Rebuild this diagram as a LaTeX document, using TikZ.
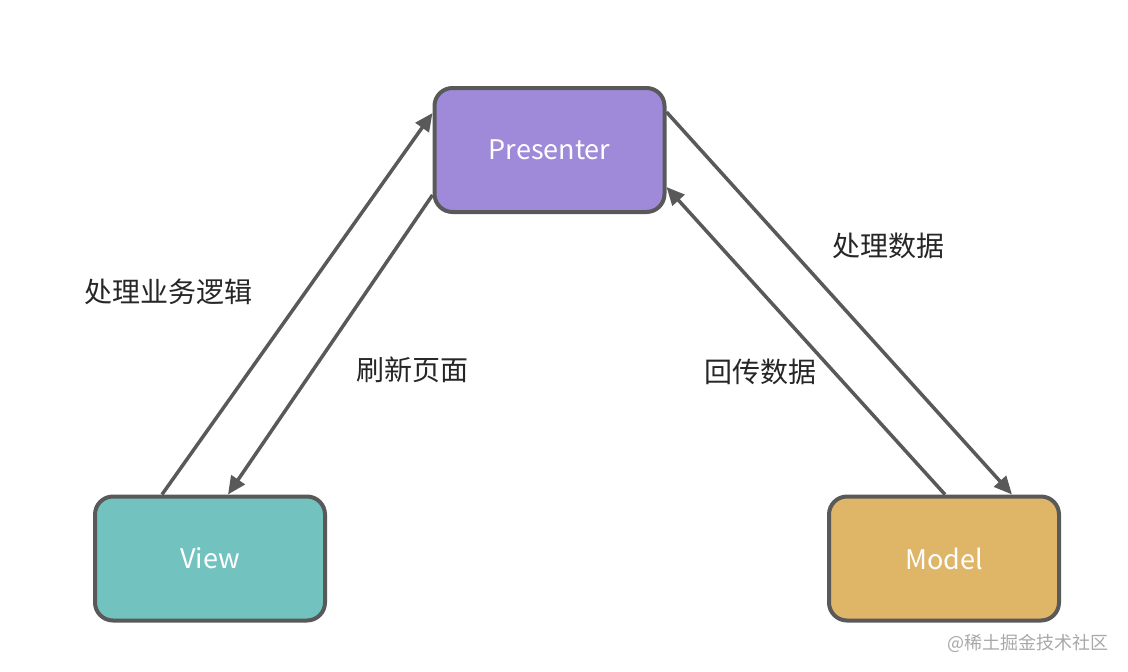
\documentclass[tikz,border=0pt]{standalone}
\usepackage{fontspec}
\setmainfont{Noto Sans CJK SC}
\usetikzlibrary{arrows.meta}
\definecolor{edgegray}{HTML}{595959}
\definecolor{presfill}{HTML}{9E8AD9}
\definecolor{viewfill}{HTML}{72C3C0}
\definecolor{modelfill}{HTML}{DFB568}
\definecolor{wmgray}{HTML}{A8A8A8}
\tikzset{
  box/.style={draw=edgegray, line width=4pt, rounded corners=18pt,
    minimum width=230pt, minimum height=124pt, inner sep=0pt,
    text=white, font=\fontsize{27}{31}\selectfont},
  conn/.style={draw=edgegray, line width=3.5pt,
    -{Triangle[length=18pt,width=16pt]}},
  lbl/.style={text=black!85, font=\fontsize{28}{32}\selectfont, inner sep=0pt}
}
\begin{document}
\begin{tikzpicture}[x=1pt,y=-1pt]
\useasboundingbox (0,0) rectangle (1128,672);
\node[box, fill=presfill] (P) at (549.5,150) {Presenter};
\node[box, fill=viewfill] (V) at (210,558.5) {View};
\node[box, fill=modelfill] (M) at (944,558.5) {Model};
% anchor points on box borders
\coordinate (v1) at ([xshift=69pt]V.north west);
\coordinate (v2) at ([xshift=135pt]V.north west);
\coordinate (p1) at ([yshift=-27pt]P.north west);
\coordinate (p2) at ([yshift=-109pt]P.north west);
\coordinate (p3) at ([yshift=-26pt]P.north east);
\coordinate (p4) at ([yshift=-101pt]P.north east);
\coordinate (m1) at ([xshift=118pt]M.north west);
\coordinate (m2) at ([xshift=185pt]M.north west);
\draw[conn] (v1) -- (p1);
\draw[conn] (p2) -- (v2);
\draw[conn] (p3) -- (m2);
\draw[conn] (m1) -- (p4);
\node[lbl] (l1) at (168,292) {处理业务逻辑};
\node[lbl] (l2) at (412,370) {刷新页面};
\node[lbl] (l3) at (888,246) {处理数据};
\node[lbl] (l4) at (760,372) {回传数据};
\node[text=wmgray, font=\fontsize{18}{20}\selectfont, inner sep=0pt] (wm) at (1028,643) {@稀土掘金技术社区};
\end{tikzpicture}
\end{document}
